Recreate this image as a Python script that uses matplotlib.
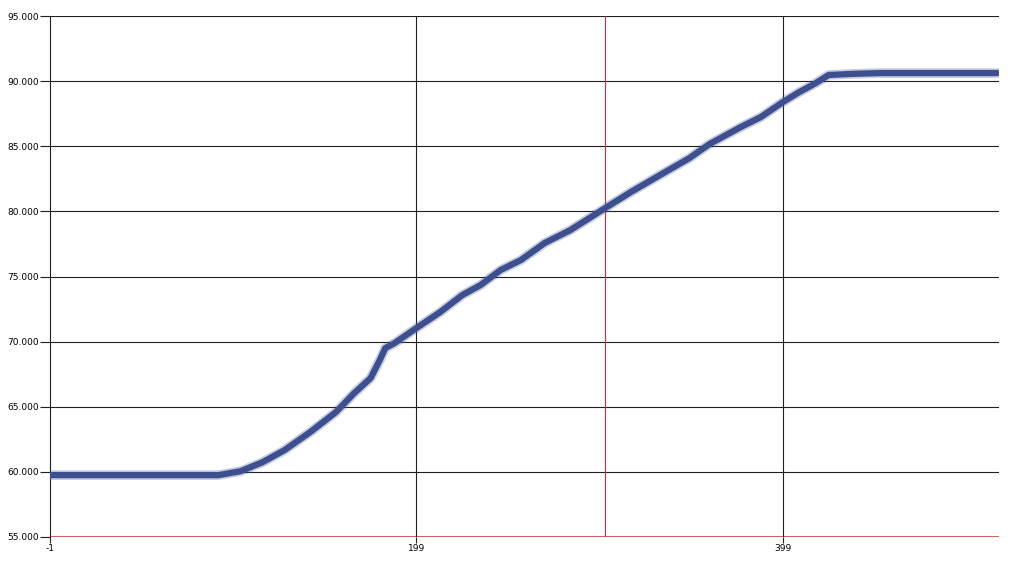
import matplotlib
matplotlib.use("Agg")
import matplotlib.pyplot as plt

# points
x_vals = [-1, 91, 103, 115, 127, 141, 155, 165, 174, 179, 182, 187, 199, 212, 224,
          234, 245, 256, 269, 283, 302, 316, 332, 348, 359, 376, 387, 399, 408, 417,
          424, 436, 452, 516]
y_vals = [59.75, 59.75, 60.05, 60.74, 61.67, 63.05, 64.58, 66.04, 67.2, 68.58, 69.5,
          69.88, 71.04, 72.27, 73.57, 74.34, 75.5, 76.26, 77.57, 78.56, 80.25, 81.48,
          82.79, 84.09, 85.17, 86.47, 87.24, 88.39, 89.16, 89.85, 90.47, 90.55, 90.62,
          90.62]

y_ticks = [55, 60, 65, 70, 75, 80, 85, 90, 95]
x_ticks = [-1, 199, 399]
marker_x = 302  # red vertical marker

fig = plt.figure(figsize=(10.23, 5.73), dpi=100)
ax = fig.add_axes([50 / 1023, 1 - 537 / 573, 949 / 1023, 521 / 573])

ax.set_xlim(-1, 517)
ax.set_ylim(55, 95)

# grid
for v in y_ticks[1:]:
    ax.axhline(v, color="#202020", lw=0.8, zorder=1)
ax.axhline(55, color="#d04040", lw=1.2, zorder=1)
for v in x_ticks[1:]:
    ax.axvline(v, color="#202020", lw=0.8, zorder=1)
ax.axvline(marker_x, color="#c83030", lw=0.8, zorder=1)

# curve, with a soft halo
ax.plot(x_vals, y_vals, color="#4a5a98", lw=7, alpha=0.3, solid_capstyle="round", zorder=3)
ax.plot(x_vals, y_vals, color="#3d4f8f", lw=4.5, solid_capstyle="round", zorder=4)

for s in ["top", "right", "bottom"]:
    ax.spines[s].set_visible(False)
ax.spines["left"].set_color("#202020")
ax.spines["left"].set_linewidth(0.8)

ax.set_yticks(y_ticks)
ax.set_yticklabels([f"{v:.3f}" for v in y_ticks])
ax.set_xticks(x_ticks)
ax.set_xticklabels([str(v) for v in x_ticks])
ax.tick_params(axis="y", length=7, width=0.8, color="#202020", labelsize=6.5, pad=1)
ax.tick_params(axis="x", length=4, width=0.8, color="#202020", labelsize=6.5, pad=1)

fig.savefig("out.png", dpi=100)
